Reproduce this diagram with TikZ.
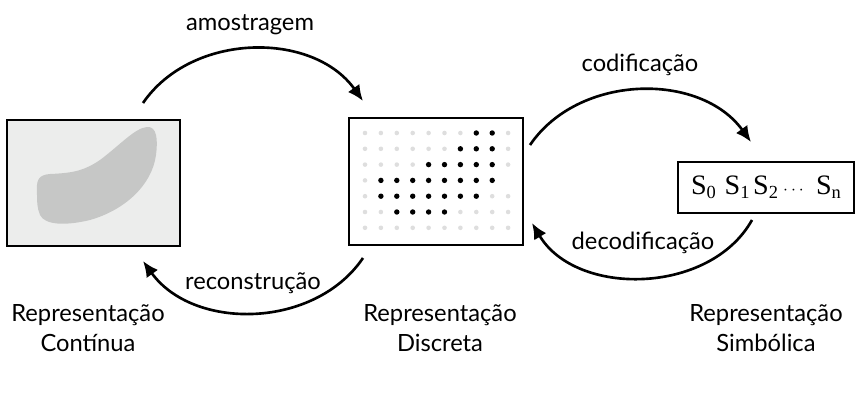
\documentclass[tikz,border=0pt]{standalone}
\usepackage{fontspec}
\setmainfont{Lato}
\newfontfamily\simbfont{Liberation Serif}
\usetikzlibrary{arrows.meta}
\definecolor{fundo}{RGB}{236,237,236}
\definecolor{mancha}{RGB}{198,199,198}
\definecolor{ponto}{RGB}{222,222,222}
\newcommand\indice[1]{\raisebox{-0.3ex}{\fontsize{10.5}{10.5}\selectfont #1}}

\begin{document}
\begin{tikzpicture}[x=0.02cm, y=-0.02cm, font=\fontsize{13.5}{17.5}\selectfont,
  quadro/.style={draw, line width=0.6pt, inner sep=0pt},
  seta/.style={line width=1.5pt, -{Latex[length=9pt, width=8pt]}}]
\useasboundingbox (0,0) rectangle (863,409);
\node[quadro, fill=fundo, minimum width=3.46cm, minimum height=2.52cm] (cont) at (93.5,183) {};
\fill[mancha] (37,195) .. controls (36,180) and (38,175) .. (50,174)
  .. controls (75,173) and (85,170) .. (100,160)
  .. controls (120,145) and (135,128) .. (147,127)
  .. controls (157,126) and (158,140) .. (156,155)
  .. controls (152,185) and (125,210) .. (90,220)
  .. controls (65,226) and (45,225) .. (40,215)
  .. controls (37,208) and (37,200) .. cycle;
\node[quadro, minimum width=3.48cm, minimum height=2.54cm] (disc) at (436,181.5) {};
\foreach \r/\p/\q/\n in {0/7/8/9, 1/6/8/9, 2/4/8/9, 3/1/8/8, 4/1/7/9, 5/2/5/9, 6/10/-1/9}
  \foreach \c in {0,...,\n}{%
    \ifnum\c<\p \fill[ponto] ({365+15.9*\c},{133+15.8*\r}) circle (2.3);
    \else\ifnum\c>\q \fill[ponto] ({365+15.9*\c},{133+15.8*\r}) circle (2.3);
    \else \fill ({365+15.9*\c},{133+15.8*\r}) circle (2.7);\fi\fi}
\node[quadro, minimum width=3.52cm, minimum height=1.02cm, font=\simbfont\fontsize{16}{16}\selectfont] (simb) at (766,187.5)
  {S\indice{0}\hspace{5pt}S\indice{1}\hspace{2pt}S\indice{2}\hspace{3pt}{\fontsize{10}{10}\selectfont$\cdots$}\hspace{7pt}S\indice{n}};
\node[align=center, anchor=north] (rcont) at (88,298) {Representação\\Contínua};
\node[align=center, anchor=north] (rdisc) at (440,298) {Representação\\Discreta};
\node[align=center, anchor=north] (rsimb) at (766,298) {Representação\\Simbólica};
\coordinate (a1) at (143,103); \coordinate (a2) at (363,101);
\coordinate (r1) at (363,258); \coordinate (r2) at (143,261);
\coordinate (c1) at (530,145); \coordinate (c2) at (751,142);
\coordinate (d1) at (752,220); \coordinate (d2) at (532,223);
\draw[seta] (a1) to[bend left=55] (a2);
\draw[seta] (r1) to[bend left=55] (r2);
\draw[seta] (c1) to[bend left=55] (c2);
\draw[seta] (d1) to[bend left=60] (d2);
\node (amo) at (250,25) {amostragem};
\node (rec) at (253,283) {reconstrução};
\node (cod) at (640,65) {codificação};
\node (dec) at (643,243) {decodificação};
\end{tikzpicture}
\end{document}
